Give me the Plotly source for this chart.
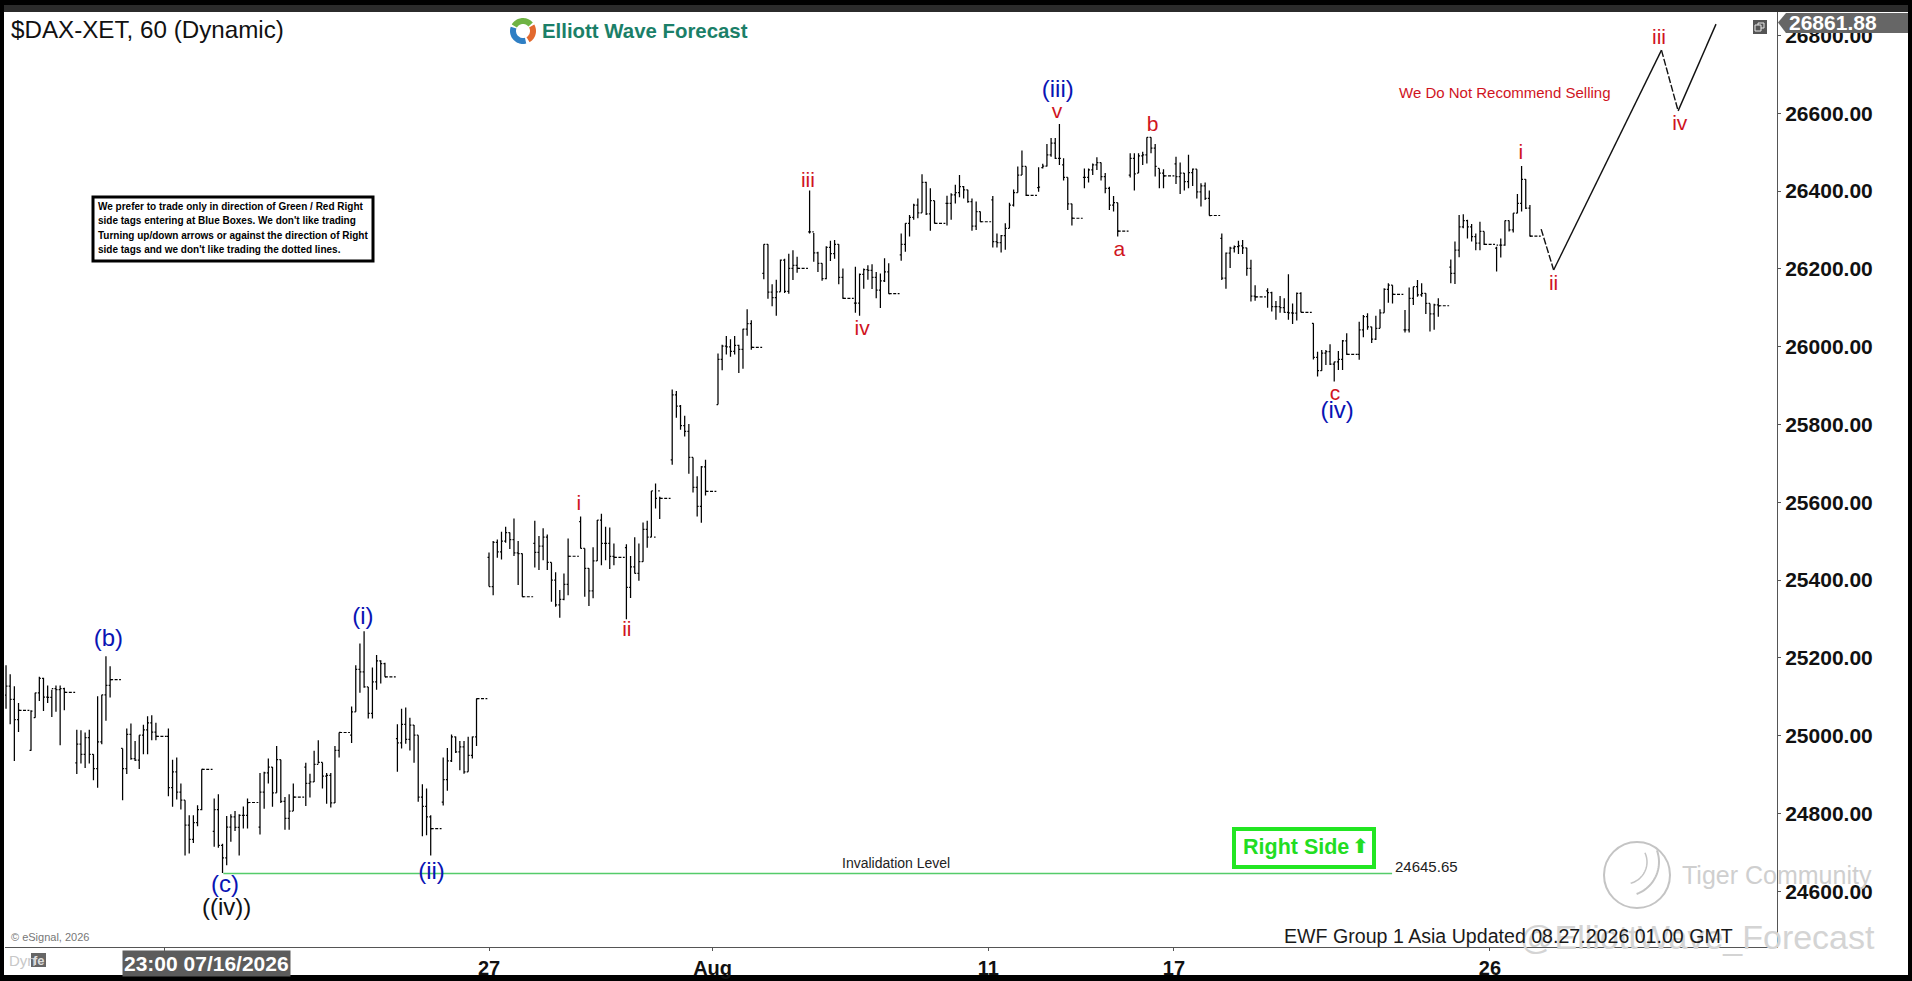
import plotly.graph_objects as go

# one row per session, the first session is cut off by the left edge
opens = [25104, 25127, 25093, 25041,
    24962, 25046, 25110, 25147, 25099, 25098, 25121, 25118, 25121,
    24930, 24978, 24952, 24995, 24952, 24915, 24984, 25105, 25129,
    24967, 24915, 25003, 24941, 24937, 25001, 25015, 25033, 25009,
    24998, 24866, 24907, 24855, 24834, 24770, 24733, 24776, 24810,
    24754, 24810, 24718, 24686, 24765, 24791, 24764, 24795, 24795,
    24765, 24855, 24904, 24919, 24853, 24938, 24831, 24787, 24806,
    24919, 24877, 24881, 24926, 24931, 24896, 24898, 24827, 24962,
    25001, 25061, 25170, 25164, 25125, 25057, 25138, 25192, 25185,
    24992, 24981, 25029, 24990, 25027, 25001, 24842, 24818, 24791,
    24829, 24887, 24935, 24997, 24958, 24971, 24907, 24949, 24997,
    25458, 25383, 25497, 25472, 25500, 25522, 25504, 25470, 25468,
    25494, 25471, 25487, 25510, 25445, 25400, 25336, 25350, 25389,
    25550, 25481, 25430, 25372, 25449, 25554, 25494, 25494, 25461,
    25483, 25381, 25434, 25417, 25447, 25530, 25510, 25510, 25629,
    25709, 25876, 25847, 25797, 25782, 25715, 25638, 25589, 25691,
    25851, 25967, 26001, 25999, 25988, 26003, 25993, 26045, 26059,
    26188, 26263, 26140, 26126, 26141, 26222, 26142, 26201, 26209,
    26295, 26295, 26241, 26214, 26175, 26255, 26239, 26263, 26178,
    26112, 26112, 26186, 26198, 26196, 26178, 26145, 26169, 26192,
    26236, 26263, 26317, 26332, 26364, 26344, 26422, 26341, 26375,
    26368, 26368, 26390, 26396, 26411, 26403, 26373, 26310, 26347,
    26377, 26270, 26267, 26285, 26304, 26364, 26396, 26441, 26463,
    26409, 26460, 26464, 26493, 26523, 26484, 26467, 26435, 26367,
    26435, 26435, 26454, 26467, 26473, 26437, 26407, 26364, 26370,
    26441, 26484, 26446, 26490, 26493, 26538, 26510, 26458, 26446,
    26470, 26437, 26446, 26424, 26447, 26456, 26398, 26413, 26381,
    26278, 26176, 26240, 26253, 26257, 26259, 26254, 26201, 26130,
    26143, 26139, 26103, 26103, 26100, 26088, 26087, 26086, 26137,
    26060, 25972, 25938, 25983, 25987, 25955, 25961, 25967, 26015,
    25980, 26043, 26077, 26051, 26019, 26047, 26087, 26147, 26158,
    26043, 26043, 26124, 26154, 26133, 26137, 26111, 26084, 26107,
    26204, 26188, 26248, 26308, 26324, 26308, 26283, 26266, 26296,
    26253, 26261, 26261, 26324, 26300, 26343, 26368, 26430, 26356]
highs = [25181, 25158, 25127, 25084,
    25065, 25110, 25151, 25149, 25129, 25118, 25129, 25129, 25123,
    25015, 25014, 25008, 25015, 24952, 25101, 25105, 25204, 25178,
    24967, 25018, 25031, 24986, 25001, 25028, 25050, 25052, 25033,
    25018, 24938, 24944, 24877, 24834, 24795, 24795, 24821, 24913,
    24838, 24849, 24722, 24793, 24798, 24806, 24798, 24818, 24838,
    24904, 24907, 24941, 24919, 24973, 24938, 24842, 24849, 24877,
    24930, 24902, 24961, 24988, 24931, 24904, 24904, 24973, 25008,
    25075, 25181, 25237, 25268, 25125, 25175, 25207, 25194, 25187,
    25029, 25069, 25072, 25046, 25027, 25001, 24875, 24864, 24795,
    24944, 24968, 25003, 24998, 24986, 24986, 24997, 24998, 25095,
    25471, 25500, 25504, 25524, 25537, 25522, 25558, 25500, 25468,
    25552, 25513, 25533, 25517, 25445, 25420, 25374, 25417, 25507,
    25563, 25481, 25430, 25484, 25554, 25570, 25537, 25535, 25494,
    25492, 25462, 25510, 25494, 25548, 25552, 25629, 25648, 25614,
    25890, 25886, 25850, 25822, 25801, 25715, 25667, 25693, 25709,
    25982, 26005, 26027, 26019, 26027, 26005, 26046, 26096, 26068,
    26263, 26263, 26160, 26172, 26224, 26226, 26239, 26248, 26231,
    26401, 26292, 26244, 26214, 26258, 26272, 26274, 26263, 26201,
    26205, 26188, 26201, 26209, 26212, 26192, 26188, 26227, 26214,
    26291, 26317, 26338, 26367, 26381, 26443, 26424, 26407, 26375,
    26388, 26394, 26416, 26441, 26413, 26403, 26381, 26373, 26347,
    26387, 26291, 26287, 26317, 26370, 26404, 26463, 26504, 26463,
    26461, 26470, 26521, 26536, 26536, 26572, 26484, 26435, 26367,
    26458, 26458, 26471, 26487, 26473, 26446, 26411, 26387, 26370,
    26497, 26497, 26497, 26501, 26538, 26538, 26521, 26458, 26456,
    26488, 26473, 26446, 26493, 26458, 26456, 26420, 26422, 26401,
    26291, 26242, 26257, 26260, 26272, 26274, 26254, 26223, 26158,
    26150, 26141, 26117, 26130, 26124, 26186, 26111, 26139, 26140,
    26060, 25987, 25991, 25991, 26006, 25961, 25989, 26017, 26034,
    26064, 26081, 26086, 26051, 26079, 26096, 26150, 26163, 26158,
    26094, 26152, 26154, 26171, 26163, 26137, 26111, 26110, 26124,
    26224, 26270, 26338, 26340, 26326, 26315, 26291, 26321, 26296,
    26257, 26278, 26324, 26324, 26343, 26392, 26464, 26430, 26364]
lows = [25069, 25029, 24935, 25009,
    24961, 25046, 25089, 25063, 25084, 25048, 25061, 24975, 25065,
    24901, 24928, 24917, 24928, 24885, 24866, 24978, 25038, 25098,
    24834, 24901, 24938, 24935, 24914, 24952, 24952, 24988, 24988,
    24844, 24817, 24836, 24810, 24692, 24697, 24724, 24767, 24808,
    24714, 24712, 24647, 24667, 24727, 24755, 24692, 24761, 24761,
    24746, 24812, 24877, 24817, 24853, 24827, 24758, 24758, 24806,
    24819, 24841, 24881, 24928, 24864, 24825, 24815, 24827, 24944,
    24981, 25061, 25110, 25123, 25044, 25044, 25118, 25134, 25151,
    24907, 24967, 24979, 24962, 24930, 24830, 24741, 24744, 24692,
    24820, 24858, 24932, 24955, 24911, 24902, 24907, 24941, 24973,
    25383, 25361, 25457, 25453, 25496, 25480, 25462, 25387, 25357,
    25432, 25426, 25451, 25426, 25344, 25331, 25303, 25348, 25361,
    25481, 25357, 25333, 25353, 25449, 25438, 25451, 25428, 25438,
    25299, 25354, 25417, 25398, 25447, 25483, 25510, 25584, 25557,
    25696, 25817, 25786, 25769, 25673, 25625, 25563, 25547, 25617,
    25851, 25939, 25980, 25974, 25980, 25932, 25943, 26028, 25992,
    26173, 26123, 26104, 26079, 26141, 26138, 26136, 26171, 26190,
    26291, 26218, 26192, 26169, 26173, 26220, 26226, 26160, 26123,
    26087, 26079, 26149, 26172, 26148, 26124, 26099, 26166, 26136,
    26221, 26244, 26283, 26326, 26330, 26344, 26338, 26298, 26317,
    26311, 26326, 26368, 26384, 26381, 26370, 26298, 26300, 26321,
    26255, 26255, 26242, 26249, 26304, 26360, 26396, 26441, 26387,
    26398, 26458, 26463, 26488, 26482, 26467, 26427, 26351, 26311,
    26407, 26422, 26441, 26454, 26427, 26394, 26351, 26347, 26283,
    26435, 26401, 26446, 26467, 26471, 26497, 26437, 26407, 26407,
    26418, 26392, 26401, 26407, 26413, 26381, 26360, 26377, 26337,
    26171, 26149, 26202, 26242, 26238, 26238, 26182, 26116, 26118,
    26100, 26090, 26069, 26087, 26087, 26069, 26058, 26067, 26088,
    25967, 25923, 25938, 25953, 25953, 25910, 25940, 25940, 25979,
    25966, 26024, 26043, 26009, 26017, 26047, 26087, 26113, 26111,
    26036, 26036, 26107, 26128, 26128, 26084, 26039, 26043, 26077,
    26163, 26161, 26230, 26304, 26278, 26270, 26248, 26248, 26261,
    26193, 26229, 26259, 26296, 26293, 26343, 26347, 26354, 26283]
closes = [25127, 25093, 25041, 25065,
    25063, 25110, 25147, 25099, 25098, 25121, 25118, 25121, 25111,
    24978, 24952, 24995, 24952, 24915, 24984, 25105, 25129, 25144,
    24915, 25003, 24941, 24937, 25001, 25015, 25033, 25009, 24998,
    24866, 24907, 24855, 24834, 24770, 24733, 24776, 24810, 24913,
    24810, 24718, 24686, 24765, 24791, 24764, 24795, 24795, 24828,
    24855, 24904, 24919, 24853, 24938, 24831, 24787, 24806, 24842,
    24877, 24881, 24926, 24931, 24896, 24898, 24827, 24962, 25008,
    25061, 25170, 25164, 25125, 25057, 25138, 25192, 25185, 25151,
    24981, 25029, 24990, 25027, 25001, 24842, 24818, 24791, 24761,
    24887, 24935, 24997, 24958, 24971, 24907, 24949, 24997, 25095,
    25383, 25497, 25472, 25500, 25522, 25504, 25470, 25468, 25357,
    25471, 25487, 25510, 25445, 25400, 25336, 25350, 25389, 25461,
    25481, 25430, 25372, 25449, 25554, 25494, 25494, 25461, 25458,
    25381, 25434, 25417, 25447, 25530, 25510, 25629, 25610, 25610,
    25876, 25847, 25797, 25782, 25715, 25638, 25589, 25691, 25628,
    25967, 26001, 25999, 25988, 26003, 25993, 26045, 26059, 25998,
    26263, 26140, 26126, 26141, 26222, 26142, 26201, 26209, 26201,
    26295, 26241, 26214, 26175, 26255, 26239, 26263, 26178, 26124,
    26112, 26186, 26198, 26196, 26178, 26145, 26169, 26192, 26136,
    26263, 26317, 26332, 26364, 26344, 26422, 26341, 26375, 26317,
    26368, 26390, 26396, 26411, 26403, 26373, 26310, 26347, 26321,
    26270, 26267, 26285, 26304, 26364, 26396, 26441, 26463, 26389,
    26410, 26464, 26493, 26523, 26484, 26484, 26435, 26367, 26330,
    26435, 26454, 26467, 26473, 26437, 26407, 26364, 26370, 26297,
    26484, 26444, 26490, 26493, 26538, 26510, 26463, 26446, 26439,
    26437, 26446, 26424, 26447, 26456, 26398, 26413, 26381, 26337,
    26176, 26240, 26253, 26257, 26259, 26254, 26201, 26130, 26128,
    26139, 26103, 26103, 26100, 26088, 26087, 26086, 26137, 26088,
    25972, 25938, 25983, 25987, 25955, 25961, 25967, 26015, 25980,
    26043, 26077, 26051, 26019, 26047, 26087, 26147, 26158, 26134,
    26043, 26124, 26154, 26133, 26137, 26111, 26084, 26107, 26105,
    26188, 26248, 26308, 26324, 26308, 26283, 26266, 26296, 26263,
    26261, 26261, 26324, 26300, 26343, 26368, 26430, 26356, 26284]

y_ticks = [24600, 24800, 25000, 25200, 25400, 25600, 25800, 26000, 26200, 26400, 26600, 26800]
x_tick_slots = [32, 110, 163.7, 229.9, 274.5, 350.4]
x_tick_labels = ["", "27", "Aug", "11", "17", "26"]

wave_text = ["(b)", "(i)", "(c)", "((iv))", "(ii)", "i", "ii", "iii", "iv", "(iii)", "v", "a", "b", "c", "(iv)", "i", "ii", "iii", "iv"]
wave_slot = [18.6, 79.7, 46.6, 47, 96.2, 131.6, 143.1, 186.6, 199.6, 246.6, 246.4, 261.4, 269.4, 313.2, 313.7, 357.8, 365.7, 391, 396]
wave_price = [25245, 25302, 24613, 24554, 24647, 25594, 25270, 26425, 26044, 26657, 26602, 26247, 26569, 25877, 25831, 26497, 26158, 26792, 26570]
wave_color = ["#0a14b4", "#0a14b4", "#0a14b4", "#111111", "#0a14b4"] + ["#d0141e"] * 4 + ["#0a14b4"] + ["#d0141e"] * 4 + ["#0a14b4"] + ["#d0141e"] * 4

# projected path after the last bar
down_slots = [[362.7, 365.7], [391.6, 395.6]]
down_prices = [[26302, 26197], [26762, 26606]]
up_slots = [[365.7, 391.6], [395.6, 404.7]]
up_prices = [[26197, 26762], [26606, 26829]]

invalidation = 24645.65
invalidation_slots = [46.2, 326.9]
last_price = 26861.88

notice_lines = ["We prefer to trade only in direction of Green / Red Right",
                "side tags entering at Blue Boxes. We don't like trading",
                "Turning up/down arrows or against the direction of Right",
                "side tags and we don't like trading the dotted lines."]

PLOT_L, PLOT_R, PLOT_T, PLOT_B = 5, 1777, 12, 947
W, H = 1912, 981
SLOT_PX = 45.8 / 11
FIRST_SESSION_PX = 31


def px(x):
    return (x - PLOT_L) / (PLOT_R - PLOT_L)


def py(y):
    return 1 - (y - PLOT_T) / (PLOT_B - PLOT_T)


def slot_at(x):
    return (x - FIRST_SESSION_PX) / SLOT_PX


def price_at(y):
    return 26800 - (y - 35.4) * 200 / 77.8


bar_x = [-6, -5, -4, -3] + [day * 11 + k for day in range(33) for k in range(9)]

fig = go.Figure()

fig.add_trace(go.Ohlc(
    x=bar_x, open=opens, high=highs, low=lows, close=closes,
    increasing=dict(line=dict(color="#000000", width=1.25)),
    decreasing=dict(line=dict(color="#000000", width=1.25)),
    tickwidth=0.35, hoverinfo="skip", showlegend=False,
))

# the last bar of each session has a long close tick
long_x, long_y = [], []
for i in [3] + [3 + 9 * d for d in range(1, 34)]:
    long_x += [bar_x[i], bar_x[i] + 2.6, None]
    long_y += [closes[i], closes[i], None]
fig.add_trace(go.Scatter(x=long_x, y=long_y, mode="lines", line=dict(color="#000000", width=1.2, dash="3px,1.5px"),
                         hoverinfo="skip", showlegend=False))

fig.add_trace(go.Scatter(x=invalidation_slots, y=[invalidation, invalidation], mode="lines",
                         line=dict(color="#55cc6a", width=1.5), hoverinfo="skip", showlegend=False))

for sx, sy in zip(up_slots, up_prices):
    fig.add_trace(go.Scatter(x=sx, y=sy, mode="lines", line=dict(color="#111111", width=1.4),
                             hoverinfo="skip", showlegend=False))
for sx, sy in zip(down_slots, down_prices):
    fig.add_trace(go.Scatter(x=sx, y=sy, mode="lines", line=dict(color="#111111", width=1.4, dash="7px,2px"),
                             hoverinfo="skip", showlegend=False))

fig.add_trace(go.Scatter(
    x=wave_slot, y=wave_price, mode="text", text=wave_text,
    textfont=dict(family="Liberation Sans", size=[24 if t.startswith("(") else 21 for t in wave_text], color=wave_color),
    textposition="middle center", hoverinfo="skip", showlegend=False,
))


def note(text, x, y, size, color="#000000", anchor="left", family="Liberation Sans", **kw):
    fig.add_annotation(text=text, x=px(x), y=py(y), xref="paper", yref="paper", showarrow=False,
                       xanchor=anchor, yanchor="middle", align=anchor,
                       font=dict(family=family, size=size, color=color), **kw)


def arc(cx, cy, r, a0, a1, n=24):
    import math
    pts = []
    for i in range(n + 1):
        a = math.radians(a0 + (a1 - a0) * i / n)
        pts.append((px(cx + r * math.cos(a)), py(cy - r * math.sin(a))))
    return "M " + " L ".join(f"{a:.5f} {b:.5f}" for a, b in pts)


def box(x0, y0, x1, y1, **kw):
    fig.add_shape(type="rect", xref="paper", yref="paper", x0=px(x0), x1=px(x1), y0=py(y0), y1=py(y1), **kw)


def poly(points, **kw):
    d = "M " + " L ".join(f"{px(a):.5f} {py(b):.5f}" for a, b in points) + " Z"
    fig.add_shape(type="path", xref="paper", yref="paper", path=d, **kw)


# window frame
box(4, 12, 1908, 975, fillcolor="#ffffff", line_width=0, layer="below")
box(4, 5, 1908, 12, fillcolor="#2b2b2b", line_width=0, layer="below")

# logo
for color, a0, a1 in [("#6fb344", 40, 150), ("#2f7fc4", 160, 285), ("#e2692e", 300, 390)]:
    fig.add_shape(type="path", xref="paper", yref="paper", path=arc(523, 31, 10, a0, a1),
                  line=dict(color=color, width=6), layer="above")
note("<b>Elliott Wave Forecast</b>", 540, 31, 20.4, color="#1b7f68")

note("$DAX-XET, 60 (Dynamic)", 9, 29, 24.2, color="#111111")

# trading note box
box(93, 197, 373, 261, fillcolor="#ffffff", line=dict(color="#000000", width=3), layer="above")
for line, ly in zip(notice_lines, [206, 220.7, 235, 250]):
    note("<b>" + line + "</b>", 96, ly, 10)

note("We Do Not Recommend Selling", 1397, 92, 15, color="#d0141e")

note("Invalidation Level", 896, 863, 14, color="#222222", anchor="center")
note("24645.65", 1393, 866, 15, color="#222222")

box(1234, 829, 1374, 867, fillcolor="#ffffff", line=dict(color="#22e622", width=4), layer="above")
note("<b>Right Side</b>", 1241, 847, 21.5, color="#22dd22")
note("<b>⬆</b>", 1360, 846, 20, color="#22dd22", anchor="center", family="DejaVu Sans")

# watermark
fig.add_shape(type="circle", xref="paper", yref="paper", x0=px(1604), x1=px(1670), y0=py(842), y1=py(908),
              line=dict(color="#c4c4c4", width=2), layer="above")
fig.add_shape(type="path", xref="paper", yref="paper", path=arc(1625, 862, 34, -70, 20),
              line=dict(color="#c4c4c4", width=2), layer="above")
fig.add_shape(type="path", xref="paper", yref="paper", path=arc(1625, 862, 22, -75, 25),
              line=dict(color="#c4c4c4", width=1.5), layer="above")
note("Tiger Community", 1680, 875, 25, color="#cfcfcf")
note("@ElliottWave_Forecast", 1518, 937, 34, color="#d4d4d4")
note("EWF Group 1 Asia Updated 08.27.2026 01.00 GMT", 1282, 936, 19.6, color="#1a1a1a")

note("© eSignal, 2026", 9, 937, 11, color="#777777")
note("Dyn", 7, 961, 15, color="#c8c8c8")
box(31, 953, 46, 967, fillcolor="#666666", line_width=0, layer="above")
note("<b>fe</b>", 38.5, 960, 13, color="#dddddd", anchor="center")
note("<b>23:00 07/16/2026</b>", 206, 963, 21, color="#ffffff", anchor="center", bgcolor="#5c5c5c", borderpad=1)

# last price tag and the small window icon
poly([(1778, 22.5), (1786, 13), (1908, 13), (1908, 33), (1786, 33)], fillcolor="#666666", line_width=0, layer="above")
note("<b>" + f"{last_price:.2f}" + "</b>", 1787, 22.5, 21, color="#ffffff")
box(1753, 20, 1767, 34, fillcolor="#555555", line_width=0, layer="above")
box(1758, 23, 1764, 28, fillcolor="rgba(0,0,0,0)", line=dict(color="#e8e8e8", width=1), layer="above")
box(1755, 25, 1761, 31, fillcolor="#555555", line=dict(color="#e8e8e8", width=1), layer="above")

fig.update_layout(
    width=W, height=H, autosize=False,
    margin=dict(l=PLOT_L, r=W - PLOT_R, t=PLOT_T, b=H - PLOT_B, pad=0),
    paper_bgcolor="#000000", plot_bgcolor="#ffffff",
    showlegend=False,
    xaxis=dict(range=[slot_at(PLOT_L), slot_at(PLOT_R)], rangeslider=dict(visible=False), automargin=False,
               tickmode="array", tickvals=x_tick_slots, ticktext=x_tick_labels,
               showgrid=False, zeroline=False, showline=True, linecolor="#555555", linewidth=1,
               ticks="outside", ticklen=3, tickcolor="#555555",
               tickfont=dict(family="Liberation Sans", size=20, color="#111111", weight="bold")),
    yaxis=dict(range=[price_at(PLOT_B), price_at(PLOT_T)], side="right", automargin=False,
               tickmode="array", tickvals=y_ticks, tickformat=".2f",
               showgrid=False, zeroline=False, showline=True, linecolor="#555555", linewidth=1,
               ticks="outside", ticklen=3, tickcolor="#555555",
               tickfont=dict(family="Liberation Sans", size=21, color="#111111", weight="bold")),
)

fig.write_html("out.html", config=dict(displayModeBar=False),
               post_script="document.body.style.margin='0';document.body.style.overflow='hidden';document.body.style.background='#000';")
